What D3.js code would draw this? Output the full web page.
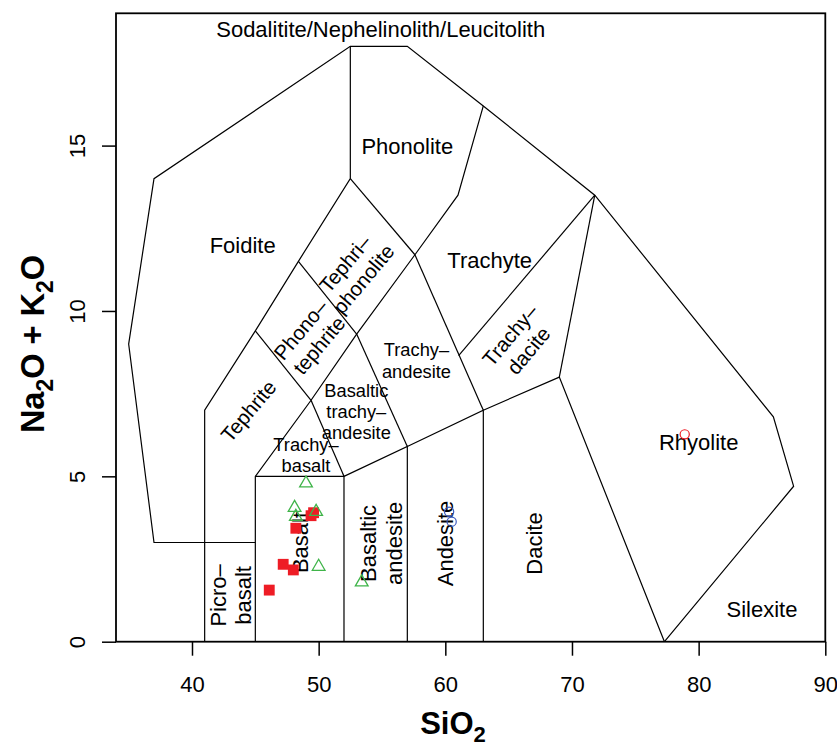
<!DOCTYPE html>
<html>
<head>
<meta charset="utf-8">
<script src="https://cdn.jsdelivr.net/npm/d3@7"></script>
<style>
  body { margin: 0; background: #fff; }
  svg text { font-family: "Liberation Sans", Arial, sans-serif; fill: #000; }
</style>
</head>
<body>
<svg width="837" height="746"></svg>
<script>
// TAS field boundaries (SiO2, Na2O+K2O)
var outerLine = [[41,3],[37,3],[35,9],[37,14],[52.5,18],[57,18],[63,16.2],[71.8,13.5],[85.9,6.8],[87.5,4.7],[77.3,0]];
var tephriteLine = [[41,0],[41,7],[45,9.4],[48.4,11.5],[52.5,14],[52.5,18]];
var basaltLine = [[45,0],[45,5],[49.4,7.3],[53,9.3],[57.6,11.7],[61,13.5],[63,16.2]];
var picroTop = [[41,3],[45,3]];
var basaltTop = [[45,5],[52,5],[52,0]];
var basAndTop = [[52,5],[57,5.9],[57,0]];
var andesiteTop = [[57,5.9],[63,7],[63,0]];
var daciteTop = [[63,7],[69,8],[77.3,0]];
var rhyoliteLeft = [[69,8],[71.8,13.5]];
var trachyBasaltRight = [[49.4,7.3],[52,5]];
var btaRight = [[53,9.3],[57,5.9]];
var trachyAndRight = [[57.6,11.7],[63,7]];
var phonoTephBottom = [[45,9.4],[49.4,7.3]];
var tephriPhonBottom = [[48.4,11.5],[53,9.3]];
var phonoliteBottom = [[52.5,14],[57.6,11.7]];
var trachyDaciteTop = [[61.05,8.65],[71.8,13.5]];

// samples
var squareSi = [46.1, 47.2, 48.0, 48.2, 49.4, 49.6];
var squareAlk = [1.56, 2.34, 2.17, 3.43, 3.81, 3.90];
var triangleSi = [49.0, 48.1, 48.2, 49.8, 50.0, 53.4];
var triangleAlk = [4.79, 4.05, 3.78, 3.93, 2.27, 1.8];
var blueSi = [60.3, 60.5];
var blueAlk = [3.93, 3.63];
var redCircleSi = [78.9];
var redCircleAlk = [6.27];

var xTicks = [40, 50, 60, 70, 80, 90];
var yTicks = [0, 5, 10, 15];

// field names: [label lines, SiO2, alkali, rotation, size]
var fieldLabels = [
  [["Sodalitite/Nephelinolith/Leucitolith"], 54.9, 18.53, 0, 22],
  [["Phonolite"], 57, 15, 0, 22],
  [["Foidite"], 44, 12, 0, 22],
  [["Trachyte"], 63.5, 11.55, 0, 22],
  [["Rhyolite"], 80, 6.05, 0, 22],
  [["Silexite"], 85, 0.98, 0, 22],
  [["Dacite"], 67, 2.97, -90, 22],
  [["Andesite"], 60, 2.97, -90, 22],
  [["Basaltic", "andesite"], 54.95, 2.97, -90, 22],
  [["Basalt"], 48.5, 3, -90, 22],
  [["Picro\u2013", "basalt"], 43.05, 1.4, -90, 22],
  [["Trachy\u2013", "basalt"], 49, 5.64, 0, 18.3],
  [["Basaltic", "trachy\u2013", "andesite"], 52.97, 6.96, 0, 18.3],
  [["Trachy\u2013", "andesite"], 57.72, 8.51, 0, 18.3],
  [["Trachy\u2013", "dacite"], 65.83, 9.04, -50, 20.5],
  [["Phono\u2013", "tephrite"], 49.3, 9.2, -50, 20.5],
  [["Tephri\u2013", "phonolite"], 52.8, 11.2, -50, 20.5],
  [["Tephrite"], 44.45, 6.98, -50, 20.5]
];

var svg = d3.select("svg"),
  plotL = 116, plotR = 825.3, plotT = 13.3, plotB = 641.7;

var x = d3.scaleLinear().domain([34, 90]).range([plotL, plotR]),
  y = d3.scaleLinear().domain([0, 19]).range([plotB, plotT]);

var line = d3.line().x(function (d) { return x(d[0]); }).y(function (d) { return y(d[1]); });

var fields = [outerLine, tephriteLine, basaltLine, picroTop, basaltTop, basAndTop, andesiteTop,
  daciteTop, rhyoliteLeft, trachyBasaltRight, btaRight, trachyAndRight, phonoTephBottom,
  tephriPhonBottom, phonoliteBottom, trachyDaciteTop];

svg.append("g")
  .selectAll("path")
  .data(fields)
  .enter()
  .append("path")
  .attr("d", line)
  .attr("fill", "none")
  .attr("stroke", "#000")
  .attr("stroke-width", 1.2);

// labels
var lab = svg.append("g").selectAll("g")
  .data(fieldLabels)
  .enter()
  .append("g")
  .attr("transform", function (d) { return "translate(" + x(d[1]) + "," + y(d[2]) + ") rotate(" + d[3] + ")"; });

lab.append("text")
  .attr("text-anchor", "middle")
  .attr("font-size", function (d) { return d[4] + "px"; })
  .attr("fill", "#1a1a1a")
  .each(function (d) {
    var n = d[0].length, step = d[4] * 1.17;
    var t = d3.select(this);
    d[0].forEach(function (s, i) {
      t.append("tspan")
        .attr("x", 0)
        .attr("y", (i - (n - 1) / 2) * step + d[4] * 0.36)
        .text(s);
    });
  });

// points
svg.append("g").selectAll("path")
  .data(squareSi)
  .enter()
  .append("path")
  .attr("d", d3.symbol().type(d3.symbolSquare).size(118))
  .attr("transform", function (d, i) { return "translate(" + x(d) + "," + y(squareAlk[i]) + ")"; })
  .attr("fill", "#ee1c25");

svg.append("g").selectAll("path")
  .data(triangleSi)
  .enter()
  .append("path")
  .attr("d", d3.symbol().type(d3.symbolTriangle).size(70))
  .attr("transform", function (d, i) { return "translate(" + x(d) + "," + y(triangleAlk[i]) + ")"; })
  .attr("fill", "none")
  .attr("stroke", "#3fb449")
  .attr("stroke-width", 1.3);

svg.append("g").selectAll("circle")
  .data(blueSi)
  .enter()
  .append("circle")
  .attr("cx", function (d) { return x(d); })
  .attr("cy", function (d, i) { return y(blueAlk[i]); })
  .attr("r", 4.6)
  .attr("fill", "none")
  .attr("stroke", "#3b5bbf")
  .attr("stroke-width", 1.2);

svg.append("g").selectAll("circle")
  .data(redCircleSi)
  .enter()
  .append("circle")
  .attr("cx", function (d) { return x(d); })
  .attr("cy", function (d, i) { return y(redCircleAlk[i]); })
  .attr("r", 4.6)
  .attr("fill", "none")
  .attr("stroke", "#ee1c25")
  .attr("stroke-width", 1.2);

// axes
var xAxis = svg.append("g")
  .attr("transform", "translate(0," + plotB + ")")
  .call(d3.axisBottom(x).tickValues(xTicks).tickSize(14).tickFormat(d3.format("d")));
xAxis.select(".domain").remove();
xAxis.selectAll("line").attr("stroke-width", 1.5);
xAxis.selectAll("text")
  .attr("y", 50).attr("dy", 0)
  .attr("font-size", "22px")
  .attr("font-family", "Liberation Sans, Arial, sans-serif");

var yAxis = svg.append("g")
  .attr("transform", "translate(" + plotL + ",0)")
  .call(d3.axisLeft(y).tickValues(yTicks).tickSize(14).tickFormat(d3.format("d")));
yAxis.select(".domain").remove();
yAxis.selectAll("line").attr("stroke-width", 1.5);
yAxis.selectAll("text")
  .attr("transform", "rotate(-90)")
  .attr("x", 0).attr("y", -31).attr("dy", 0)
  .attr("text-anchor", "middle")
  .attr("font-size", "22px")
  .attr("font-family", "Liberation Sans, Arial, sans-serif");

// plot box
svg.append("rect")
  .attr("x", plotL).attr("y", plotT)
  .attr("width", plotR - plotL).attr("height", plotB - plotT)
  .attr("fill", "none")
  .attr("stroke", "#000")
  .attr("stroke-width", 1.8);

// axis titles
var xt = svg.append("text")
  .attr("x", 453).attr("y", 734)
  .attr("text-anchor", "middle")
  .attr("font-size", "31px")
  .attr("font-weight", "bold")
  .attr("fill", "#1a1a1a");
xt.append("tspan").text("SiO");
xt.append("tspan").attr("dy", 8).attr("font-size", "22px").text("2");

var yt = svg.append("text")
  .attr("transform", "translate(44,344) rotate(-90)")
  .attr("text-anchor", "middle")
  .attr("font-size", "32.5px")
  .attr("font-weight", "bold")
  .attr("fill", "#1a1a1a");
yt.append("tspan").text("Na");
yt.append("tspan").attr("dy", 9).attr("font-size", "23px").text("2");
yt.append("tspan").attr("dy", -9).text("O + K");
yt.append("tspan").attr("dy", 9).attr("font-size", "23px").text("2");
yt.append("tspan").attr("dy", -9).text("O");
</script>
</body>
</html>
